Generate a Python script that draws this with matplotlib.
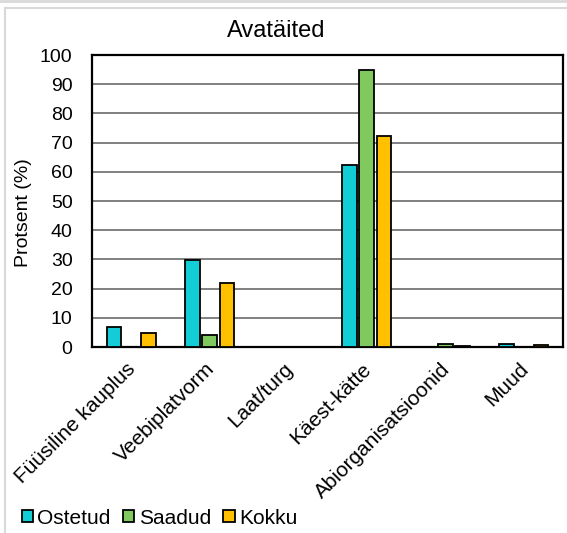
import matplotlib
matplotlib.use("Agg")
import matplotlib.pyplot as plt
import matplotlib.transforms as mtransforms
import numpy as np
from matplotlib.patches import Rectangle
from matplotlib.lines import Line2D

plt.rcParams['font.family'] = ['Liberation Sans', 'DejaVu Sans']

categories = ["Füüsiline kauplus", "Veebiplatvorm", "Laat/turg", "Käest-kätte", "Abiorganisatsioonid", "Muud"]
ostetud = [6.7, 29.7, 0, 62.2, 0, 1.0]
saadud = [0, 4.0, 0, 94.8, 1.0, 0]
kokku = [4.7, 21.9, 0, 72.2, 0.3, 0.8]
series_names = ["Ostetud", "Saadud", "Kokku"]
colors = ["#12CCD6", "#7FC95E", "#FFC000"]
yticks = list(range(0, 101, 10))

W, H = 567, 533
fig = plt.figure(figsize=(W/100, H/100), dpi=100)
fig.patches.append(Rectangle((5/W, -0.01), 1.05, 1 - 8/H + 0.01, transform=fig.transFigure,
                             fill=False, edgecolor="#D9D9D9", linewidth=1.5))
fig.add_artist(Line2D([0, 1], [1 - 1/H, 1 - 1/H], transform=fig.transFigure,
                      color="#D9D9D9", linewidth=2))
ax = fig.add_axes([92/W, 1 - 347/H, (563-92)/W, (347-55)/H])

x = np.arange(len(categories))
w = 0.185
step = 0.22
for i, (vals, c, name) in enumerate(zip([ostetud, saadud, kokku], colors, series_names)):
    ax.bar(x + (i - 1) * step, vals, width=w, color=c, edgecolor="black",
           linewidth=1.3, label=name, zorder=3)

ax.set_xlim(-0.5, len(categories) - 0.5)
ax.set_ylim(0, 100)
ax.set_yticks(yticks)
ax.yaxis.grid(True, color="#808080", linewidth=1.4, zorder=0)
ax.set_axisbelow(True)
for s in ax.spines.values():
    s.set_linewidth(1.6)
    s.set_color("black")
ax.tick_params(axis='y', length=0, labelsize=14, pad=14)
ax.tick_params(axis='x', length=0, labelsize=15, pad=9)
ax.set_xticks(x)
ax.set_xticklabels(categories, rotation=45, ha="right", va="top", rotation_mode="anchor")
offset = mtransforms.ScaledTranslation(-5/100, 0, fig.dpi_scale_trans)
for lab in ax.get_xticklabels():
    lab.set_transform(lab.get_transform() + offset)

fig.text(24/W, 1 - 213/H, "Protsent (%)", rotation=90, ha="center", va="center", fontsize=14)
fig.text(276/W, 1 - 37/H, "Avatäited", ha="center", va="baseline", fontsize=17)

ax.legend(loc="lower left", bbox_to_anchor=(9/W, -7/H), bbox_transform=fig.transFigure,
          ncol=3, frameon=False, fontsize=15, handlelength=0.55, handleheight=0.5,
          handletextpad=0.2, columnspacing=0.6, borderaxespad=0.2)

fig.savefig("out.png", dpi=100)
